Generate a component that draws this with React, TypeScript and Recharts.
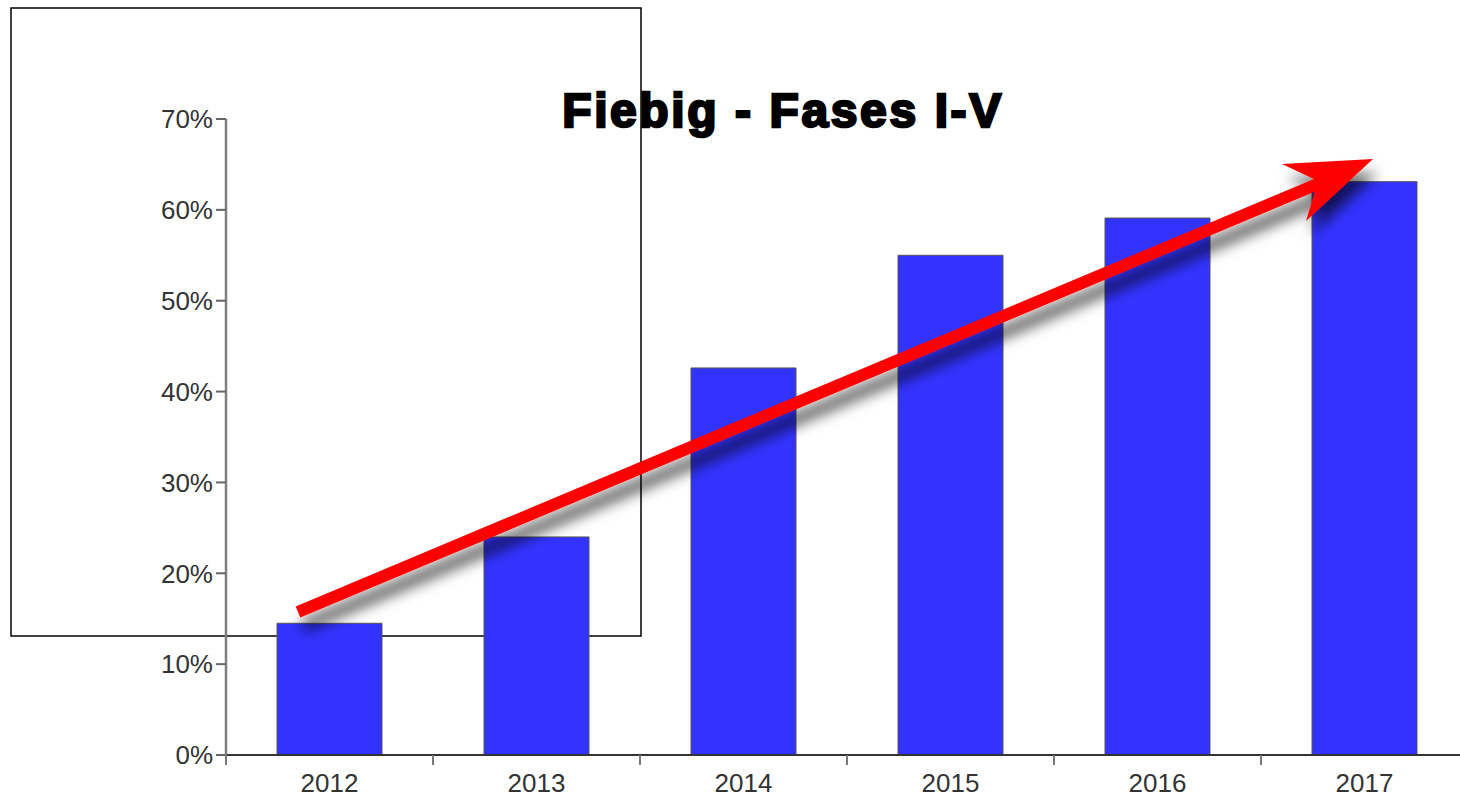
import { BarChart, Bar, XAxis, YAxis } from 'recharts';

const years = ['2012', '2013', '2014', '2015', '2016', '2017'];
const shares = [14.5, 24.0, 42.6, 55.0, 59.1, 63.1];
const yTicks = [0, 10, 20, 30, 40, 50, 60, 70];
const title = 'Fiebig - Fases I-V';

const data = years.map((year, i) => ({ year, share: shares[i] }));

const CHART_W = 1468;
const CHART_H = 798;
const Y_AXIS_W = 226;
const BAND = (CHART_W - Y_AXIS_W) / years.length;
const FONT = '"Liberation Sans", Arial, sans-serif';

function YearTick(props: any) {
    const { x, y, payload } = props;
    const bx = x - BAND / 2;
    return (
        <g>
            <line x1={bx} x2={bx} y1={y - 10} y2={y} stroke="#777" strokeWidth={2} />
            <text x={x} y={y + 27} textAnchor="middle" fill="#333" fontSize={26} fontFamily={FONT}>
                {payload.value}
            </text>
        </g>
    );
}

export default function App() {
    return (
        <div style={{ position: 'absolute', left: 0, top: 0, width: 1460, height: 798, overflow: 'hidden', background: '#fff' }}>
            {/* title and framed box sit behind the bars */}
            <svg width={1460} height={798} style={{ position: 'absolute', left: 0, top: 0 }}>
                <text
                    x={783}
                    y={127}
                    textAnchor="middle"
                    fontFamily={FONT}
                    fontWeight="bold"
                    fontSize={48}
                    letterSpacing={2.6}
                    fill="#000"
                    stroke="#000"
                    strokeWidth={2.5}
                >
                    {title}
                </text>
                <rect x={11} y={8} width={630} height={628} fill="none" stroke="#000" strokeWidth={1.5} />
            </svg>
            <div style={{ position: 'absolute', left: 0, top: 0 }}>
                <BarChart width={CHART_W} height={CHART_H} data={data} margin={{ top: 119, right: 0, bottom: 0, left: 0 }}>
                    <XAxis
                        dataKey="year"
                        height={43}
                        axisLine={{ stroke: '#333', strokeWidth: 2 }}
                        tickLine={false}
                        tickSize={10}
                        tickMargin={0}
                        tick={<YearTick />}
                        interval={0}
                    />
                    <YAxis
                        width={Y_AXIS_W}
                        domain={[0, 70]}
                        ticks={yTicks}
                        interval={0}
                        tickFormatter={(v) => `${v}%`}
                        axisLine={{ stroke: '#808080', strokeWidth: 2.5 }}
                        tickLine={{ stroke: '#666', strokeWidth: 2 }}
                        tickSize={10}
                        tickMargin={3}
                        tick={{ fontSize: 26, fill: '#333', fontFamily: FONT }}
                    />
                    <Bar dataKey="share" fill="#3333ff" stroke="#555" strokeWidth={1} barSize={105} isAnimationActive={false} />
                </BarChart>
            </div>
            {/* trend arrow drawn over the bars */}
            <svg width={1460} height={798} style={{ position: 'absolute', left: 0, top: 0, pointerEvents: 'none' }}>
                <defs>
                    <filter id="arrowShadow" x="-20%" y="-20%" width="140%" height="160%">
                        <feDropShadow dx={5} dy={14} stdDeviation={7} floodColor="#000" floodOpacity={0.65} />
                    </filter>
                </defs>
                <g filter="url(#arrowShadow)">
                    <line x1={298} y1={612} x2={1320} y2={183} stroke="#ff0000" strokeWidth={12} />
                    <polygon points="1373,159 1282,164 1318,181 1306,221" fill="#ff0000" />
                </g>
            </svg>
        </div>
    );
}
